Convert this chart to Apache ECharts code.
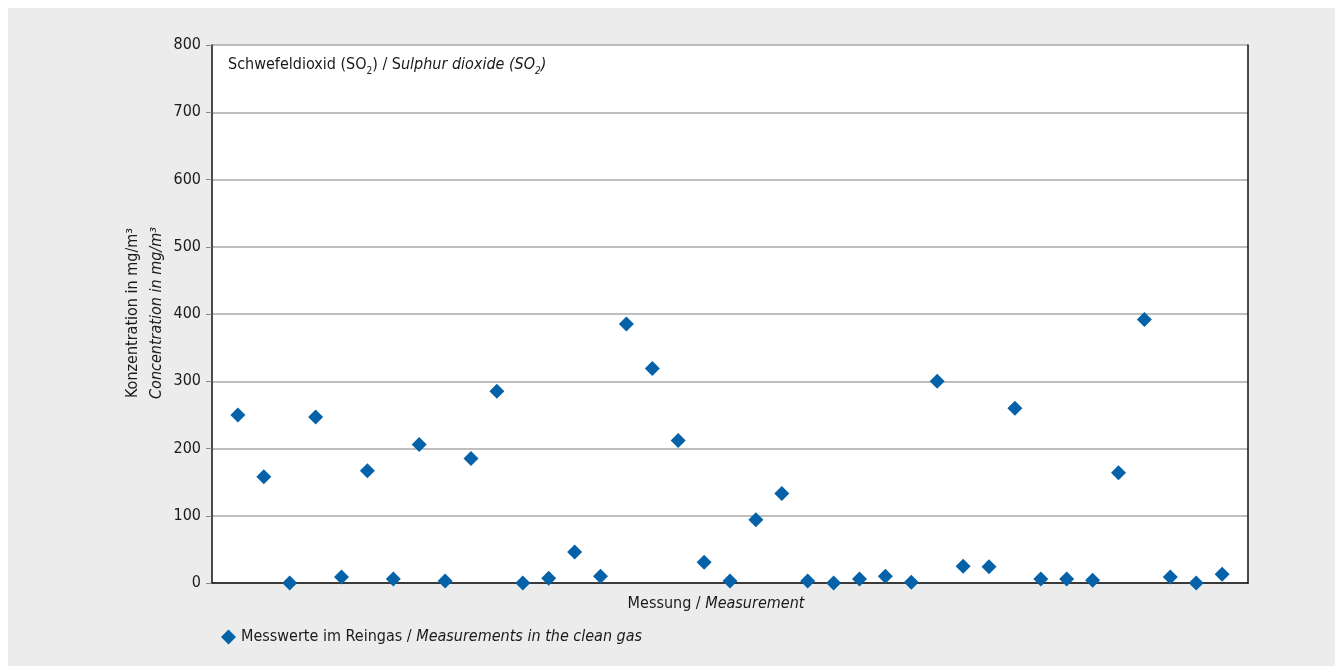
<!DOCTYPE html>
<html>
<head>
<meta charset="utf-8">
<script src="https://cdn.jsdelivr.net/npm/echarts@6/dist/echarts.min.js"></script>
<style>
  html, body { margin: 0; padding: 0; background: #fff; }
  #panel {
    position: absolute;
    left: 8px;
    top: 8px;
    width: 1327px;
    height: 658px;
    background: #ebeceb;
  }
  #chart { width: 1327px; height: 658px; }
</style>
</head>
<body>
<div id="panel"><div id="chart"></div></div>
<script>
// Messwerte im Reingas, SO2 in mg/m3 (Messung 1..39)
const measurements = [
  250, 158, 0, 247, 9, 167, 6, 206, 3, 185,
  285, 0, 7, 46, 10, 385, 319, 212, 31, 3,
  94, 133, 3, 0, 6, 10, 1, 300, 25, 24,
  260, 6, 6, 4, 164, 392, 9, 0, 13
]
const yTicks = [0, 100, 200, 300, 400, 500, 600, 700, 800]

const font = '"Liberation Sans Narrow", "DejaVu Sans Condensed", "Liberation Sans", sans-serif'
const textColor = '#1a1a1a'
const fs = 16

const myChart = echarts.init(document.getElementById('chart'))

const option = {
  backgroundColor: 'transparent',
  textStyle: { fontFamily: font, color: textColor },
  title: {
    left: 220,
    top: 46,
    padding: 0,
    text: '{a|Schwefeldioxid (SO}{sub|2}{a|) / S}{i|ulphur dioxide (SO}{isub|2}{i|)}',
    textStyle: {
      fontWeight: 'normal',
      rich: {
        a: { fontFamily: font, fontSize: fs, fontWeight: 'normal', color: textColor, lineHeight: 22 },
        sub: { fontFamily: font, fontSize: 10, fontWeight: 'normal', color: textColor, lineHeight: 10, verticalAlign: 'bottom' },
        i: { fontFamily: font, fontSize: fs, fontWeight: 'normal', fontStyle: 'italic', color: textColor, lineHeight: 22 },
        isub: { fontFamily: font, fontSize: 10, fontWeight: 'normal', fontStyle: 'italic', color: textColor, lineHeight: 10, verticalAlign: 'bottom' },
      },
    },
  },
  legend: {
    left: 208,
    top: 616,
    icon: 'diamond',
    itemWidth: 15,
    itemHeight: 15,
    itemGap: 6,
    data: ['Messwerte'],
    formatter: () => '{a|Messwerte im Reingas / }{i|Measurements in the clean gas}',
    textStyle: {
      rich: {
        a: { fontFamily: font, fontSize: fs, color: textColor },
        i: { fontFamily: font, fontSize: fs, fontStyle: 'italic', color: textColor },
      },
    },
  },
  grid: {
    left: 204,
    right: 87,
    top: 37,
    bottom: 83,
    show: true,
    backgroundColor: '#fff',
    borderWidth: 0,
  },
  graphic: [
    {
      type: 'text',
      x: 125,
      y: 305,
      rotation: Math.PI / 2,
      style: {
        text: 'Konzentration in mg/m³',
        fontFamily: font,
        fontSize: fs,
        fill: textColor,
        align: 'center',
        verticalAlign: 'middle',
      },
    },
    {
      type: 'text',
      x: 149,
      y: 305,
      rotation: Math.PI / 2,
      style: {
        text: 'Concentration in mg/m³',
        fontFamily: font,
        fontSize: fs,
        fontStyle: 'italic',
        fill: textColor,
        align: 'center',
        verticalAlign: 'middle',
      },
    },
    {
      type: 'text',
      x: 708,
      y: 596,
      style: {
        text: '{a|Messung / }{i|Measurement}',
        align: 'center',
        verticalAlign: 'middle',
        rich: {
          a: { fontFamily: font, fontSize: fs, fill: textColor },
          i: { fontFamily: font, fontSize: fs, fontStyle: 'italic', fill: textColor },
        },
      },
    },
  ],
  xAxis: {
    type: 'value',
    min: 0,
    max: measurements.length + 1,
    interval: 1,
    axisLine: { show: true, onZero: false, lineStyle: { color: '#111', width: 1.5 } },
    axisTick: { show: false },
    axisLabel: { show: false },
    splitLine: { show: false },
  },
  yAxis: [
    {
      type: 'value',
      min: 0,
      max: 800,
      interval: 100,
      axisLine: { show: true, lineStyle: { color: '#111', width: 1.5 } },
      axisTick: { show: true, length: 6, lineStyle: { color: '#888' } },
      axisLabel: {
        margin: 11,
        fontFamily: font,
        fontSize: fs,
        color: textColor,
        formatter: (v) => (yTicks.includes(v) ? String(v) : ''),
      },
      splitLine: { show: true, lineStyle: { color: '#a9a9a9', width: 1.5 } },
    },
    {
      type: 'value',
      position: 'right',
      min: 0,
      max: 800,
      interval: 100,
      axisLine: { show: true, lineStyle: { color: '#111', width: 1.5 } },
      axisTick: { show: false },
      axisLabel: { show: false },
      splitLine: { show: false },
    },
  ],
  series: [
    {
      name: 'Messwerte',
      type: 'scatter',
      symbol: 'diamond',
      symbolSize: 15,
      itemStyle: { color: '#0562a8', opacity: 1 },
      data: measurements.map((v, i) => [i + 1, v]),
    },
  ],
}

myChart.setOption(option)

window.addEventListener('resize', () => {
  myChart?.resize()
})
</script>
</body>
</html>
